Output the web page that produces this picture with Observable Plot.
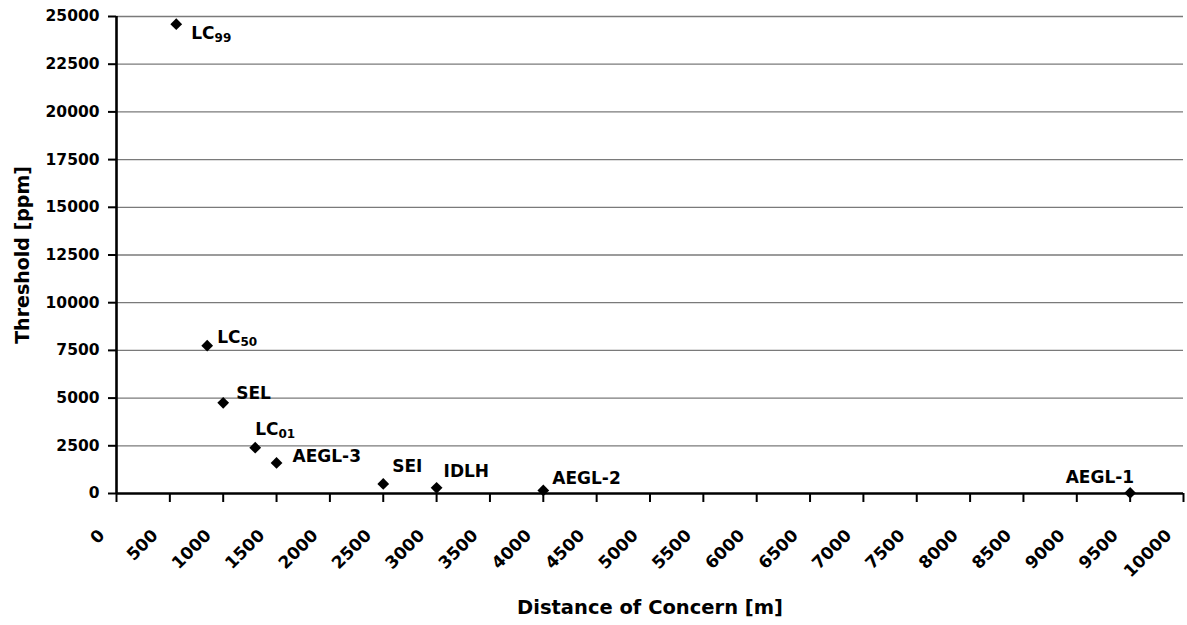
<!DOCTYPE html>
<html>
<head>
<meta charset="utf-8">
<script src="https://cdn.jsdelivr.net/npm/d3@7"></script>
<script src="https://cdn.jsdelivr.net/npm/@observablehq/plot@0.6"></script>
<style>
  html, body { margin: 0; padding: 0; background: white; }
  #chart svg { display: block; }
</style>
</head>
<body>
<div id="chart"></div>
<script>
// ---- data ----
const names = ["LC99", "LC50", "SEL", "LC01", "AEGL-3", "SEI", "IDLH", "AEGL-2", "AEGL-1"];
const distances = [560, 850, 1000, 1300, 1500, 2500, 3000, 4000, 9500];   // m
const thresholds = [24600, 7750, 4750, 2400, 1600, 500, 300, 160, 30];   // ppm

const xTicks = [0, 500, 1000, 1500, 2000, 2500, 3000, 3500, 4000, 4500, 5000,
                5500, 6000, 6500, 7000, 7500, 8000, 8500, 9000, 9500, 10000];
const yTicks = [0, 2500, 5000, 7500, 10000, 12500, 15000, 17500, 20000, 22500, 25000];

const xLabel = "Distance of Concern [m]";
const yLabel = "Threshold [ppm]";

// table built from the arrays
const points = names.map((name, i) => ({name, distance: distances[i], threshold: thresholds[i]}));

// label placement (styling): [dx, dy, textAnchor]
const placement = {
  "LC99":   [15, 9, "start"],
  "LC50":   [10, -8, "start"],
  "SEL":    [13, -9, "start"],
  "LC01":   [0, -18, "start"],
  "AEGL-3": [16, -6, "start"],
  "SEI":    [9, -17, "start"],
  "IDLH":   [7, -16, "start"],
  "AEGL-2": [9, -12, "start"],
  "AEGL-1": [4, -15, "end"]
};

const font = "'DejaVu Sans', 'Liberation Sans', Arial, sans-serif";

const labelMarks = names.map(n => Plot.text(points.filter(d => d.name === n), {
  x: "distance", y: "threshold", text: "name",
  dx: placement[n][0], dy: placement[n][1], textAnchor: placement[n][2],
  fontSize: 17, fontWeight: "bold", fill: "black", className: "pt-label"
}));

const chart = Plot.plot({
  width: 1187,
  height: 625,
  marginLeft: 116,
  marginRight: 4,
  marginTop: 16,
  marginBottom: 132,
  x: {domain: [0, 10000]},
  y: {domain: [0, 25000]},
  style: {fontFamily: font, fontWeight: "bold", background: "white", color: "black"},
  marks: [
    Plot.ruleY(yTicks.filter(t => t > 0), {stroke: "#7a7a7a", strokeWidth: 1.3}),
    Plot.axisY({ticks: yTicks, tickSize: 8, tickPadding: 9, tickFormat: d => String(d),
                fontSize: 15.5, strokeWidth: 2, label: null}),
    Plot.axisX({ticks: xTicks, tickSize: 9, tickFormat: () => "", strokeWidth: 2, label: null}),
    Plot.text(xTicks, {x: d => d, frameAnchor: "bottom", text: d => String(d),
                       rotate: -45, textAnchor: "end", dx: -11, dy: 43, fontSize: 17}),
    Plot.ruleY([0], {stroke: "black", strokeWidth: 2.6}),
    Plot.ruleX([0], {stroke: "black", strokeWidth: 2.6}),
    Plot.text([yLabel], {frameAnchor: "left", text: d => d, rotate: -90, textAnchor: "middle",
                         dx: -94, fontSize: 19}),
    Plot.text([xLabel], {frameAnchor: "bottom", text: d => d, dy: 120, fontSize: 19.5}),
    Plot.dot(points, {x: "distance", y: "threshold", symbol: "diamond2", r: 5.3, fill: "black", stroke: "none"}),
    ...labelMarks
  ]
});

// subscripts for LCxx labels
chart.querySelectorAll(".pt-label text").forEach(t => {
  const m = /^LC(\d\d)$/.exec(t.textContent);
  if (m) {
    t.textContent = "LC";
    const s = document.createElementNS("http://www.w3.org/2000/svg", "tspan");
    s.setAttribute("font-size", "12");
    s.setAttribute("dy", "3");
    s.textContent = m[1];
    t.appendChild(s);
  }
});

document.getElementById("chart").appendChild(chart);
</script>
</body>
</html>
